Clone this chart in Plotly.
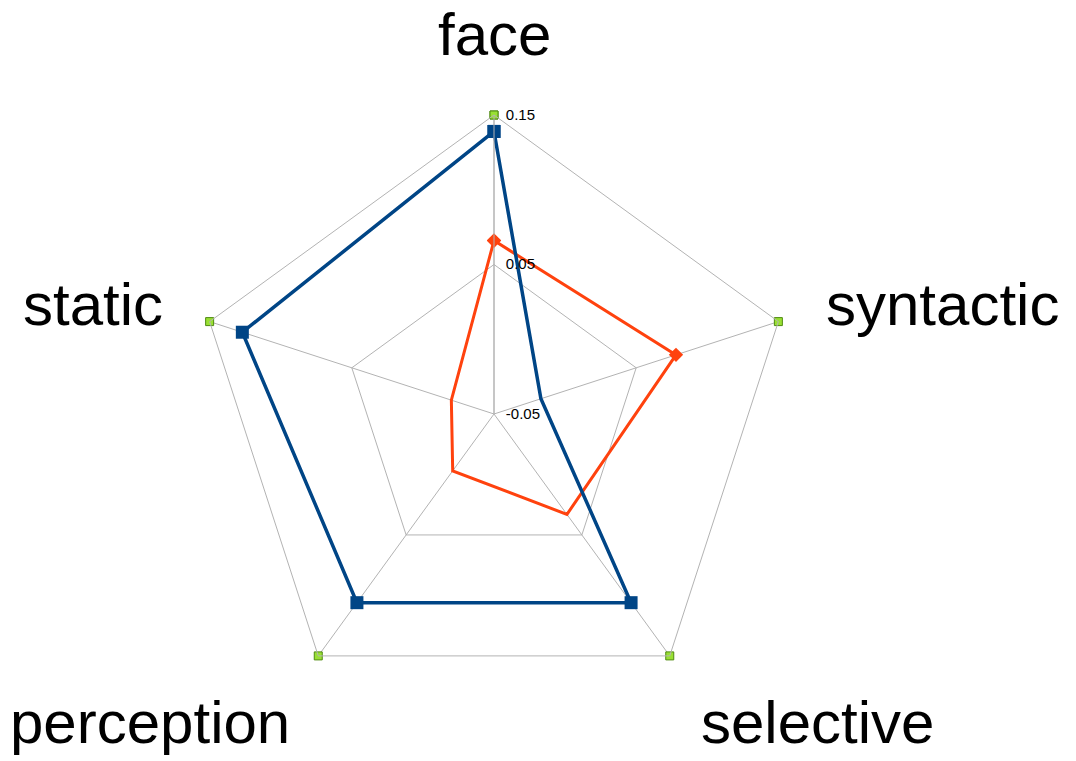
import plotly.graph_objects as go

# Axes du radar (sens horaire depuis le haut)
categories = ["face", "syntactic", "selective", "perception", "static"]

# Séries
serie_bleue = [0.139, -0.017, 0.106, 0.106, 0.127]
serie_orange = [0.066, 0.078, 0.033, -0.003, -0.020]
serie_verte = [0.15, 0.15, 0.15, 0.15, 0.15]

ticks_radiaux = [-0.05, 0.05, 0.15]
ticks_texte = ["-0.05", "0.05", "0.15"]

W, H = 1076, 761
cx, cy, R = 494, 414, 299


def fermer(vals):
    return vals + vals[:1]


cats = fermer(categories)

fig = go.Figure()

fig.add_trace(go.Scatterpolar(
    r=fermer(serie_verte), theta=cats, mode="markers",
    marker=dict(symbol="square", size=8, color="#99e033",
                line=dict(color="#4f8a10", width=1)),
    showlegend=False, hoverinfo="skip"
))
fig.add_trace(go.Scatterpolar(
    r=fermer(serie_orange), theta=cats, mode="lines+markers",
    line=dict(color="#ff420e", width=3),
    marker=dict(symbol="diamond", size=11, color="#ff420e"),
    showlegend=False
))
fig.add_trace(go.Scatterpolar(
    r=fermer(serie_bleue), theta=cats, mode="lines+markers",
    line=dict(color="#004586", width=3.5),
    marker=dict(symbol="square", size=13, color="#004586"),
    showlegend=False
))

# Etiquettes des axes (grandes)
positions = {
    "face": (494, 35),
    "syntactic": (942, 305),
    "selective": (817, 722),
    "perception": (150, 722),
    "static": (93, 305),
}
for nom, (px_, py_) in positions.items():
    fig.add_annotation(
        text=nom, x=px_ / W, y=1 - py_ / H, xref="paper", yref="paper",
        showarrow=False, xanchor="center", yanchor="middle",
        font=dict(size=60, color="black", family="Liberation Sans")
    )

# petit décalage à droite des étiquettes radiales
decalage = "&nbsp;" * 2

fig.update_layout(
    width=W, height=H,
    margin=dict(l=0, r=0, t=0, b=0),
    paper_bgcolor="white",
    plot_bgcolor="white",
    font=dict(family="Liberation Sans", color="black"),
    polar=dict(
        domain=dict(x=[(cx - R) / W, (cx + R) / W],
                    y=[(H - cy - R) / H, (H - cy + R) / H]),
        gridshape="linear",
        bgcolor="white",
        radialaxis=dict(
            range=[-0.05, 0.15], tickvals=ticks_radiaux,
            ticktext=[decalage + t for t in ticks_texte],
            angle=90, tickangle=90, showline=True, linecolor="#b3b3b3",
            gridcolor="#b3b3b3", gridwidth=1, ticks="",
            tickfont=dict(size=15, color="black")
        ),
        angularaxis=dict(
            rotation=90, direction="clockwise", showticklabels=False,
            ticks="", showline=True, linecolor="#b3b3b3", linewidth=1,
            gridcolor="#b3b3b3", gridwidth=1
        ),
    ),
)

# marge du body à zéro pour que la figure remplisse la fenêtre
fig.write_html("out.html", config={"displayModeBar": False},
               post_script="document.body.style.margin='0';")
